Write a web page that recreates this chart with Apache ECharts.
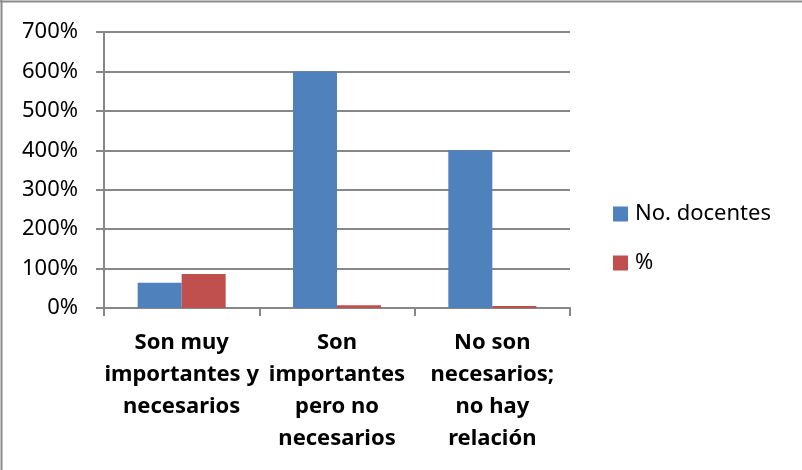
<!DOCTYPE html>
<html>
<head>
<meta charset="utf-8">
<script src="https://cdn.jsdelivr.net/npm/echarts@6/dist/echarts.min.js"></script>
<style>
  html, body { margin: 0; padding: 0; background: #fff; }
  #chart { width: 802px; height: 470px; }
</style>
</head>
<body>
<div id="chart"></div>
<script>
const categories = [
  'Son muy\nimportantes y\nnecesarios',
  'Son\nimportantes\npero no\nnecesarios',
  'No son\nnecesarios;\nno hay\nrelación',
]
const docentes = [64, 600, 400]
const porcentaje = [86, 7, 5]
const yTicks = [0, 100, 200, 300, 400, 500, 600, 700]

const gridColor = '#878787'
const chart = echarts.init(document.getElementById('chart'))

chart.setOption({
  animation: false,
  textStyle: { fontFamily: 'Noto Sans' },
  grid: { left: 104, right: 232, top: 32, bottom: 162 },
  legend: {
    orient: 'vertical',
    left: 613,
    top: 203,
    padding: 0,
    itemWidth: 15,
    itemHeight: 15,
    itemGap: 27,
    icon: 'rect',
    textStyle: { fontSize: 22, color: '#000', padding: [0, 0, 0, 2] },
    data: ['No. docentes', '%'],
  },
  graphic: [
    { type: 'line', shape: { x1: 0, y1: 1.5, x2: 802, y2: 1.5 }, style: { stroke: '#8c8c8c', lineWidth: 2 } },
    { type: 'line', shape: { x1: 1.5, y1: 0, x2: 1.5, y2: 470 }, style: { stroke: '#8c8c8c', lineWidth: 2 } },
  ],
  xAxis: {
    type: 'category',
    data: categories,
    axisLine: { lineStyle: { color: gridColor, width: 2 } },
    axisTick: { show: true, length: 8, lineStyle: { color: gridColor, width: 2 } },
    axisLabel: {
      interval: 0,
      margin: 19,
      fontSize: 22,
      fontWeight: 'bold',
      lineHeight: 32,
      color: '#000',
    },
  },
  yAxis: {
    type: 'value',
    min: yTicks[0],
    max: yTicks[yTicks.length - 1],
    interval: 100,
    axisLine: { show: true, lineStyle: { color: gridColor, width: 2 } },
    axisTick: { show: true, length: 8, lineStyle: { color: gridColor, width: 2 } },
    splitLine: { lineStyle: { color: gridColor, width: 2 } },
    axisLabel: {
      margin: 26,
      fontSize: 22,
      color: '#000',
      formatter: v => v + '%',
    },
  },
  series: [
    {
      name: 'No. docentes',
      type: 'bar',
      data: docentes,
      barWidth: 44,
      barGap: '0%',
      itemStyle: { color: '#4F81BD' },
    },
    {
      name: '%',
      type: 'bar',
      data: porcentaje,
      barWidth: 44,
      itemStyle: { color: '#C0504D' },
    },
  ],
})
</script>
</body>
</html>
